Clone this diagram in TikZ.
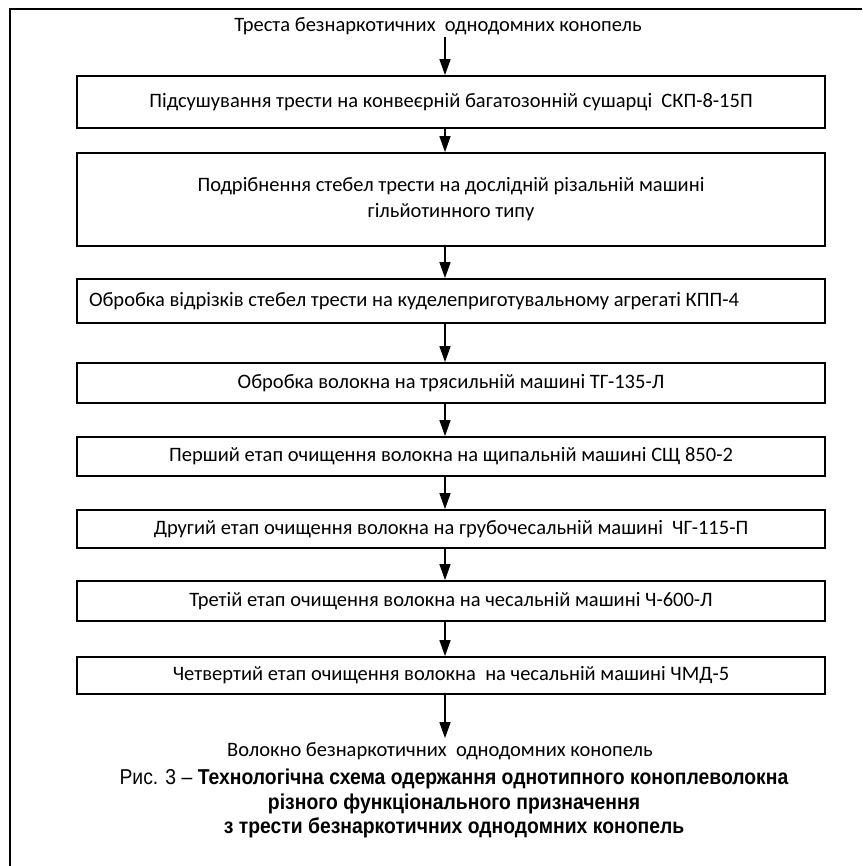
\documentclass[tikz,border=0pt]{standalone}
\usepackage{fontspec}
\setmainfont{Carlito}
\newfontfamily\capfont[FakeStretch=0.9]{Liberation Sans}
\usetikzlibrary{arrows.meta}
\begin{document}
\begin{tikzpicture}[x=1pt,y=-1pt,
  box/.style={draw, line width=1.8pt, minimum width=748pt, inner sep=0pt, font=\fontsize{20.5}{26}\selectfont, align=center},
  lbl/.style={font=\fontsize{20.5}{26}\selectfont, inner sep=2pt},
  arr/.style={-{Triangle[length=16pt,width=11pt]}, line width=1.5pt},
  captext/.style={font=\capfont\fontsize{21.5}{24.5}\selectfont, align=center},
  frame/.style={line width=1.5pt}]
\useasboundingbox (0,0) rectangle (862,866);
\draw[frame] (10,866) -- (10,9) -- (862,9);
\coordinate (ax) at (445,0);
\node[lbl] (in) at (438,26) {Треста безнаркотичних\ \ однодомних конопель};
\node[box, minimum height=52pt] (b1) at (451,102) {Підсушування трести на конвеєрній багатозонній сушарці\ \ СКП-8-15П};
\node[box, minimum height=93pt] (b2) at (451,199.5) {Подрібнення стебел трести на дослідній різальній машині\\гільйотинного типу};
\node[box, minimum height=44pt] (b3) at (451,301) {\makebox[724pt][l]{Обробка відрізків стебел трести на куделеприготувальному агрегаті КПП-4}};
\node[box, minimum height=40pt] (b4) at (451,383) {Обробка волокна на трясильній машині ТГ-135-Л};
\node[box, minimum height=39pt] (b5) at (451,456.5) {Перший етап очищення волокна на щипальній машині СЩ 850-2};
\node[box, minimum height=38pt] (b6) at (451,529) {Другий етап очищення волокна на грубочесальній машині\ \ ЧГ-115-П};
\node[box, minimum height=40pt] (b7) at (451,601) {Третій етап очищення волокна на чесальній машині Ч-600-Л};
\node[box, minimum height=37pt] (b8) at (451,675.5) {Четвертий етап очищення волокна\ \ на чесальній машині ЧМД-5};
\node[lbl, inner ysep=4pt] (out) at (440,751) {Волокно безнаркотичних\ \ однодомних конопель};
\node[captext] (capt) at (454,803.5) {Рис. 3 – \textbf{Технологічна схема одержання однотипного коноплеволокна}\\\textbf{різного функціонального призначення}\\\textbf{з трести безнаркотичних однодомних конопель}};
\draw[arr] (in.south -| ax) -- (b1.north -| ax);
\draw[arr] (b1.south -| ax) -- (b2.north -| ax);
\draw[arr] (b2.south -| ax) -- (b3.north -| ax);
\draw[arr] (b3.south -| ax) -- (b4.north -| ax);
\draw[arr] (b4.south -| ax) -- (b5.north -| ax);
\draw[arr] (b5.south -| ax) -- (b6.north -| ax);
\draw[arr] (b6.south -| ax) -- (b7.north -| ax);
\draw[arr] (b7.south -| ax) -- (b8.north -| ax);
\draw[arr] (b8.south -| ax) -- (out.north -| ax);
\end{tikzpicture}
\end{document}
